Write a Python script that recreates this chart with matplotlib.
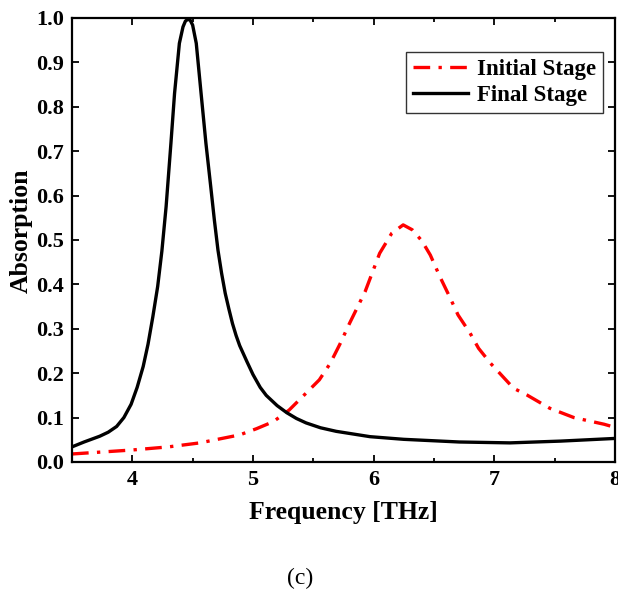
import numpy as np
import matplotlib
matplotlib.use('Agg')
import matplotlib.pyplot as plt
from matplotlib.ticker import MultipleLocator

plt.rcParams['font.family'] = ['Liberation Serif', 'DejaVu Serif']
plt.rcParams['font.weight'] = 'bold'

# Final stage (black solid)
final_x = [3.5, 3.6, 3.73, 3.8, 3.87, 3.93, 3.99, 4.04, 4.09, 4.13, 4.17, 4.21, 4.245, 4.28, 4.32, 4.35,
           4.39, 4.42, 4.44, 4.46, 4.48, 4.50, 4.53, 4.57, 4.61, 4.65, 4.68, 4.71, 4.74, 4.77, 4.80,
           4.83, 4.86, 4.89, 4.95, 5.0, 5.06, 5.11, 5.20, 5.28, 5.36, 5.44, 5.56, 5.69, 5.97, 6.25,
           6.71, 7.13, 7.55, 8.0]
final_y = [0.034, 0.045, 0.058, 0.067, 0.080, 0.100, 0.130, 0.168, 0.215, 0.265, 0.327, 0.395, 0.475,
           0.575, 0.718, 0.83, 0.943, 0.98, 0.993, 0.997, 0.995, 0.984, 0.943, 0.83, 0.718, 0.62,
           0.545, 0.477, 0.425, 0.38, 0.345, 0.312, 0.285, 0.262, 0.226, 0.197, 0.168, 0.15, 0.127,
           0.111, 0.098, 0.088, 0.077, 0.069, 0.057, 0.051, 0.045, 0.043, 0.047, 0.053]

# Initial stage (red dash-dot)
init_x = [3.5, 4.0, 4.3, 4.56, 4.89, 5.03, 5.17, 5.30, 5.44, 5.55, 5.64, 5.72, 5.80, 5.93, 6.05, 6.15,
          6.245, 6.32, 6.40, 6.47, 6.55, 6.63, 6.70, 6.80, 6.87, 6.97, 7.16, 7.27, 7.46, 7.66,
          7.91, 8.0]
init_y = [0.018, 0.027, 0.034, 0.043, 0.061, 0.075, 0.091, 0.117, 0.155, 0.185, 0.222, 0.265, 0.312,
          0.384, 0.47, 0.515, 0.534, 0.523, 0.498, 0.466, 0.417, 0.372, 0.331, 0.29, 0.256, 0.222,
          0.166, 0.151, 0.121, 0.10, 0.085, 0.078]

fig = plt.figure(figsize=(6.18, 5.90), dpi=100)
ax = fig.add_axes([0.1165, 0.217, 0.8785, 0.7525])

ax.plot(init_x, init_y, color='red', lw=2.4, linestyle=(0, (5, 2.5, 1, 2.5)), label='Initial Stage')
ax.plot(final_x, final_y, color='black', lw=2.4, label='Final Stage', solid_joinstyle='round')

ax.set_xlim(3.5, 8)
ax.set_ylim(0, 1.0)
ax.xaxis.set_major_locator(MultipleLocator(1))
ax.xaxis.set_minor_locator(MultipleLocator(0.5))
ax.set_yticks(np.arange(0, 1.01, 0.1))
ax.set_yticklabels(['%.1f' % v for v in np.arange(0, 1.01, 0.1)])
ax.tick_params(which='both', direction='in', top=True, right=True, labelsize=16, width=1.3)
ax.tick_params(which='major', length=5, pad=6)
ax.tick_params(which='minor', length=3)
for s in ax.spines.values():
    s.set_linewidth(1.6)

ax.set_xlabel('Frequency [THz]', fontsize=18.5, fontweight='bold', labelpad=8)
ax.set_ylabel('Absorption', fontsize=18.5, fontweight='bold')
ax.yaxis.set_label_coords(-0.072, 0.52)

leg = ax.legend(loc='upper right', bbox_to_anchor=(0.978, 0.923), fontsize=16.5, frameon=True,
                fancybox=False, edgecolor='black', handlelength=2.4, borderpad=0.3,
                labelspacing=0.2, handletextpad=0.4, borderaxespad=0)
leg.get_frame().set_linewidth(1.0)

fig.text(0.486, 0.002, '(c)', fontsize=17, fontweight='normal', ha='center', va='bottom')

fig.savefig('out.png', dpi=100)
